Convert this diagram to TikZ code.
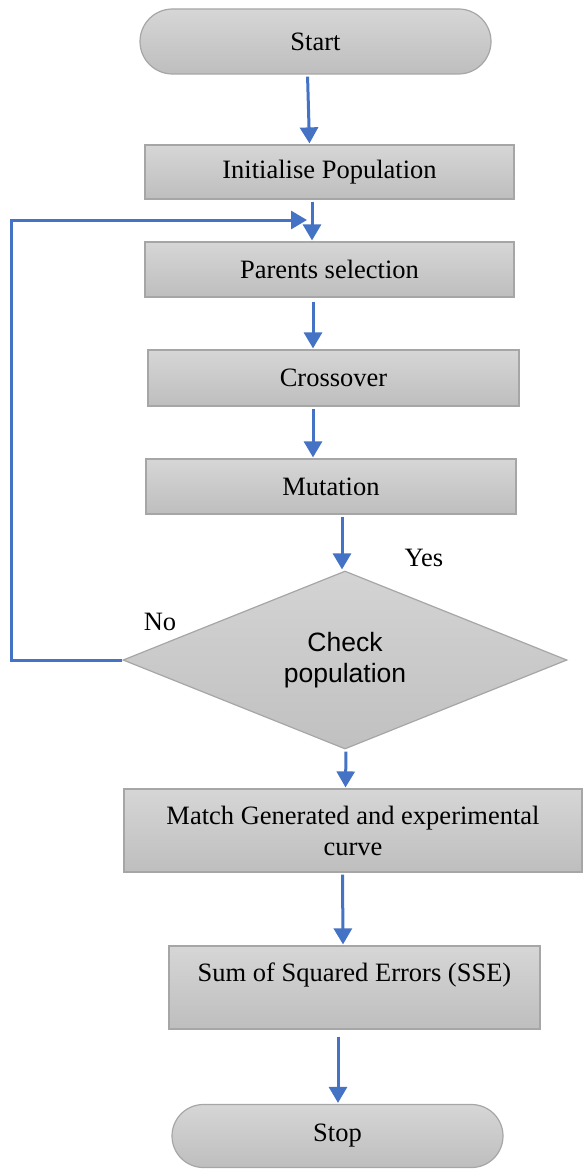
\documentclass[tikz,border=0pt]{standalone}
\usepackage{fontspec}
\setmainfont{Liberation Serif}
\newfontfamily\arialfont{Liberation Sans}
\usetikzlibrary{arrows.meta}
\usetikzlibrary{shapes.geometric,shapes.misc}
\definecolor{arrowblue}{RGB}{68,114,196}
\definecolor{boxtop}{RGB}{214,214,214}
\definecolor{boxbot}{RGB}{190,190,190}
\definecolor{boxline}{RGB}{166,166,166}
\newcommand{\flowfont}{\fontsize{26.5}{31}\selectfont}
\tikzset{
  shadedbox/.style={draw=boxline,line width=1.2pt,top color=boxtop,bottom color=boxbot,inner sep=0pt,font=\flowfont,align=center},
  procbox/.style={shadedbox,rectangle},
  startstop/.style={shadedbox,rounded rectangle},
  decision/.style={shadedbox,diamond,top color=boxtop!90!boxbot,bottom color=boxbot!90!boxtop,font=\arialfont\flowfont},
  flowarrow/.style={arrowblue,line width=3pt,-{Triangle[length=16pt,width=18pt]},shorten <=2pt,shorten >=1pt}
}

\begin{document}
\begin{tikzpicture}[x=1pt,y=-1pt]
\useasboundingbox (0,0) rectangle (583,1169);
\node[startstop,minimum width=351pt,minimum height=65pt] (start) at (315.5,41.5) {Start};
\node[procbox,minimum width=369pt,minimum height=54pt] (init) at (329.5,172) {Initialise Population};
\node[procbox,minimum width=369pt,minimum height=55pt] (parents) at (329.5,269.5) {Parents selection};
\node[procbox,minimum width=371pt,minimum height=56pt] (cross) at (333.5,378) {Crossover};
\node[procbox,minimum width=370pt,minimum height=55pt] (mut) at (331,486.5) {Mutation};
\node[decision,minimum width=444pt,minimum height=168pt] (check) at (345,660) {Check\\population};
\node[procbox,minimum width=458pt,minimum height=83pt] (match) at (353,830.5) {Match Generated and experimental\\curve};
\node[procbox,minimum width=371pt,minimum height=83pt,text depth=31pt] (sse) at (354.5,987.5) {Sum of Squared Errors (SSE)};
\node[startstop,minimum width=331pt,minimum height=63pt] (stop) at (337.5,1136) {Stop};
\node[font=\flowfont] (yes) at (424,558) {Yes};
\node[font=\flowfont] (no) at (160,622) {No};
\coordinate (loopleft) at (11,220);
\coordinate (loopend) at (307,220);
\draw[flowarrow] ([xshift=-8pt]start.south) -- ([xshift=-20pt]init.north);
\draw[flowarrow] ([xshift=-17.5pt]init.south) -- ([xshift=-17.5pt]parents.north);
\draw[flowarrow,shorten <=0pt,shorten >=0pt] (check.west) -| (loopleft) -- (loopend);
\draw[flowarrow,shorten <=4pt] ([xshift=-16.5pt]parents.south) -- ([xshift=-20.5pt]cross.north);
\draw[flowarrow] ([xshift=-20.5pt]cross.south) -- ([xshift=-18pt]mut.north);
\draw[flowarrow] ([xshift=11pt]mut.south) -- ([xshift=-3pt]check.north);
\draw[flowarrow] ([xshift=1pt]check.south) -- ([xshift=-7.5pt]match.north);
\draw[flowarrow] ([xshift=-10.5pt]match.south) -- ([xshift=-11.5pt]sse.north);
\draw[flowarrow,shorten <=7pt] ([xshift=-16.5pt]sse.south) -- ([xshift=0.5pt]stop.north);
\end{tikzpicture}
\end{document}
